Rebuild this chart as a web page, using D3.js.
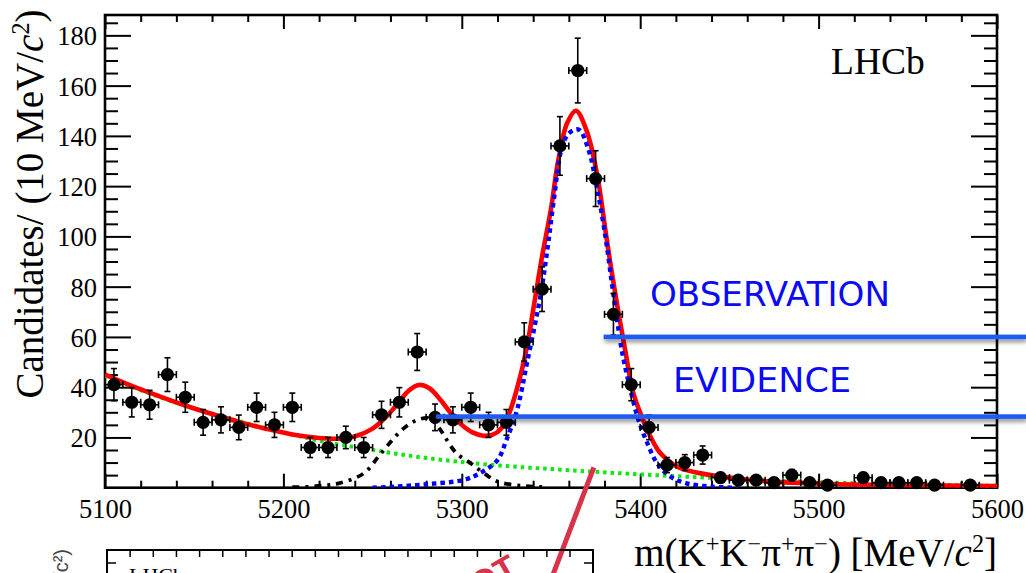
<!DOCTYPE html>
<html><head><meta charset="utf-8">
<script src="https://cdn.jsdelivr.net/npm/d3@7"></script>
<style>body{margin:0;background:#fff}svg{display:block}</style>
</head><body><svg id="c" width="1026" height="573"></svg>
<script>
// ---------- data ----------
const binCenters = [5105,5115,5125,5135,5145,5155,5165,5175,5185,5195,
  5205,5215,5225,5235,5245,5255,5265,5275,5285,5295,
  5305,5315,5325,5335,5345,5355,5365,5375,5385,5395,
  5405,5415,5425,5435,5445,5455,5465,5475,5485,5495,
  5505,5515,5525,5535,5545,5555,5565,5575,5585,5595];
const candidates = [41,34,33,45,36,26,27,24,32,25,
  32,16,16,20,16,29,34,54,28,27,
  32,25,26,58,79,136,166,123,69,41,
  24,9,10,13,4,3,3,2,5,2,
  1,0,4,2,2,2,1,0,1,0];

// total fit (red)
const totalMass  = [5100,5115,5130,5145,5160,5175,5190,5205,5220,5230,5240,5250,5258,5265,5270,5276,5282,5288,5294,5300,5306,5312,5317,5322,5327,5333,5337,5341,5345,5350,5354,5359,5364,5370,5376,5381,5384,5388,5392,5396,5401,5406,5411,5419,5426,5434,5452,5471,5508,5550,5600];
const totalValue = [45,40.5,36.5,32.7,29.3,26.2,23.5,21.2,19.8,19.5,20.4,23.5,28.5,34.3,38.5,40.9,39.5,35,29.5,25,22,20.7,21,23.5,30.5,45,58,75,92,111,130,145,150,142,124,100,86,69,53,38,28,20,14,9,7,5.7,3.8,2.5,1.5,1.0,0.7];

// B0s signal (blue dotted)
const signalMass  = [5250,5262,5282,5301,5310,5320,5325,5331,5336.5,5344,5348,5351.5,5356,5360,5365.5,5371,5376,5380.5,5384,5387,5390,5394.5,5399,5404,5409.5,5417,5426,5440,5455];
const signalValue = [0,0.4,1.5,3.1,5.7,11,19,31,49.5,76,95,114,135,141,142.5,134.5,118.5,100,82,67,53.5,39,27,17.7,9.7,4.4,1.75,0.4,0];

// combinatorial background (green dotted)
const bkgMass  = [5100,5125,5150,5175,5200,5225,5250,5275,5300,5325,5350,5375,5400,5425,5450,5475,5500,5525,5550,5575,5600];
const bkgValue = [44.5,37.5,31.5,26.5,22,18,15,12.3,10.2,8.6,7.4,6.3,5.3,4.4,3.6,2.8,2.2,1.7,1.3,1.0,0.75];

// B0 component (black dash-dot)
const b0Mass  = [5205,5215,5224,5231,5245,5254,5263.6,5270,5276,5282,5288,5291.6,5297,5305,5312,5320,5333,5345];
const b0Value = [0.2,0.4,1.0,1.7,5.7,13,21,25,27.2,27.6,23,19,13.7,9.7,6,2.5,0.8,0.3];

const xMajor = [5100,5200,5300,5400,5500,5600];
const xMinor = [5120,5140,5160,5180,5220,5240,5260,5280,5320,5340,5360,5380,5420,5440,5460,5480,5520,5540,5560,5580];
const yMajor = [20,40,60,80,100,120,140,160,180];
const yMinor = [5,10,15,25,30,35,45,50,55,65,70,75,85,90,95,105,110,115,125,130,135,145,150,155,165,170,175,185];

// annotations: significance thresholds
const thresholdLabels = ["OBSERVATION","EVIDENCE"];
const thresholdValues = [60,28.3];
const thresholdStart  = [5379.5,5285.6];

// ---------- drawing ----------
const svg = d3.select("#c");
const X0=105, X1=997, Y0=487.7, Y1=15;
const x = d3.scaleLinear().domain([5100,5600]).range([X0,X1]);
const y = d3.scaleLinear().domain([0,188.1]).range([Y0,Y1]);
const serif = "'Liberation Serif','Times New Roman',serif";

const defs = svg.append("defs");
defs.append("clipPath").attr("id","plot").append("rect")
  .attr("x",X0).attr("y",Y1).attr("width",X1-X0).attr("height",Y0-Y1);
const f = defs.append("filter").attr("id","sh").attr("x","-5%").attr("y","-150%").attr("width","110%").attr("height","500%");
f.append("feDropShadow").attr("dx",1).attr("dy",3).attr("stdDeviation",2.2).attr("flood-color","#000").attr("flood-opacity",0.45);

// axes (ticks inside, ROOT style)
function styleAxis(g){ g.select(".domain").remove(); g.selectAll(".tick line").attr("stroke","#000").attr("stroke-width",2); }
const gxb = svg.append("g").attr("transform",`translate(0,${Y0})`)
  .call(d3.axisBottom(x).tickValues(xMajor).tickSize(-14).tickFormat(d3.format("d")));
styleAxis(gxb);
gxb.selectAll("text").attr("font-family",serif).attr("font-size",26.5).attr("fill","#000").attr("y",30.5).attr("dy",null);
svg.append("g").attr("transform",`translate(0,${Y0})`)
  .call(d3.axisBottom(x).tickValues(xMinor).tickSize(-7).tickFormat("")).call(styleAxis);
svg.append("g").attr("transform",`translate(0,${Y1})`)
  .call(d3.axisTop(x).tickValues(xMajor).tickSize(-14).tickFormat("")).call(styleAxis);
svg.append("g").attr("transform",`translate(0,${Y1})`)
  .call(d3.axisTop(x).tickValues(xMinor).tickSize(-7).tickFormat("")).call(styleAxis);

const gyl = svg.append("g").attr("transform",`translate(${X0},0)`)
  .call(d3.axisLeft(y).tickValues(yMajor).tickSize(-26).tickPadding(8).tickFormat(d3.format("d")));
styleAxis(gyl);
gyl.selectAll("text").attr("font-family",serif).attr("font-size",26.5).attr("fill","#000").attr("dy","0.36em");
svg.append("g").attr("transform",`translate(${X0},0)`)
  .call(d3.axisLeft(y).tickValues(yMinor).tickSize(-13).tickFormat("")).call(styleAxis);
svg.append("g").attr("transform",`translate(${X1},0)`)
  .call(d3.axisRight(y).tickValues(yMajor).tickSize(-26).tickFormat("")).call(styleAxis);
svg.append("g").attr("transform",`translate(${X1},0)`)
  .call(d3.axisRight(y).tickValues(yMinor).tickSize(-13).tickFormat("")).call(styleAxis);

svg.append("rect").attr("x",X0).attr("y",Y1).attr("width",X1-X0).attr("height",Y0-Y1)
  .attr("fill","none").attr("stroke","#000").attr("stroke-width",2.6);

// curves
const line = d3.line().x(d=>x(d[0])).y(d=>y(d[1])).curve(d3.curveCatmullRom.alpha(0.5));
const gc = svg.append("g").attr("clip-path","url(#plot)");
gc.append("path").datum(d3.zip(bkgMass,bkgValue)).attr("d",line)
  .attr("fill","none").attr("stroke","#14e614").attr("stroke-width",4).attr("stroke-dasharray","3.5 4");
gc.append("path").datum(d3.zip(b0Mass,b0Value)).attr("d",line)
  .attr("fill","none").attr("stroke","#000").attr("stroke-width",3.8).attr("stroke-dasharray","7 6 3 6");
gc.append("path").datum(d3.zip(totalMass,totalValue)).attr("d",line)
  .attr("fill","none").attr("stroke","#ff0000").attr("stroke-width",4.6).attr("stroke-linejoin","round");
gc.append("path").datum(d3.zip(signalMass,signalValue)).attr("d",line)
  .attr("fill","none").attr("stroke","#0000ff").attr("stroke-width",4.4).attr("stroke-dasharray","4.5 4");

// data points with Poisson errors
const pts = d3.zip(binCenters,candidates).filter(d=>d[1]>0);
const gp = svg.append("g").attr("stroke","#000").attr("stroke-width",1.6);
const hw = 5; // half bin width
pts.forEach(([m,n])=>{
  const e = Math.sqrt(n), cx=x(m), cy=y(n);
  gp.append("line").attr("x1",cx).attr("x2",cx).attr("y1",y(n+e)).attr("y2",y(Math.max(n-e,0)));
  gp.append("line").attr("x1",cx-3).attr("x2",cx+3).attr("y1",y(n+e)).attr("y2",y(n+e));
  if(n-e>0) gp.append("line").attr("x1",cx-3).attr("x2",cx+3).attr("y1",y(n-e)).attr("y2",y(n-e));
  gp.append("line").attr("x1",x(m-hw)).attr("x2",x(m+hw)).attr("y1",cy).attr("y2",cy);
  gp.append("line").attr("x1",x(m-hw)).attr("x2",x(m-hw)).attr("y1",cy-3.5).attr("y2",cy+3.5);
  gp.append("line").attr("x1",x(m+hw)).attr("x2",x(m+hw)).attr("y1",cy-3.5).attr("y2",cy+3.5);
});
svg.append("g").selectAll("circle").data(pts).join("circle")
  .attr("cx",d=>x(d[0])).attr("cy",d=>y(d[1])).attr("r",6.6).attr("fill","#000");

// LHCb label
svg.append("text").attr("x",831).attr("y",74).attr("font-family",serif).attr("font-size",37.5).text("LHCb");

// axis titles
function rich(t, parts, size){
  parts.forEach(p=>{
    const s = t.append("tspan").text(p.t);
    if(p.it) s.attr("font-style","italic");
    if(p.sup){ s.attr("font-size",size*0.62).attr("dy",-size*0.36); }
    if(p.back){ s.attr("dy",size*0.36); }
  });
}
const xt = svg.append("text").attr("x",997).attr("y",566).attr("text-anchor","end")
  .attr("font-family",serif).attr("font-size",39);
rich(xt,[{t:"m(K"},{t:"+",sup:1},{t:"K",back:1},{t:"\u2212",sup:1},{t:"\u03c0",back:1},{t:"+",sup:1},{t:"\u03c0",back:1},{t:"\u2212",sup:1},{t:") [MeV/",back:1},{t:"c",it:1},{t:"2",sup:1},{t:"]",back:1}],39);

const yt = svg.append("text").attr("transform","translate(43,204) rotate(-90)").attr("text-anchor","middle")
  .attr("font-family",serif).attr("font-size",39);
rich(yt,[{t:"Candidates/ (10 MeV/"},{t:"c",it:1},{t:"2",sup:1},{t:")",back:1}],39);

// threshold annotations
const sansL = "'DejaVu Sans',sans-serif";
thresholdValues.forEach((v,i)=>{
  svg.append("rect").attr("x",x(thresholdStart[i])).attr("y",y(v)-2.3).attr("width",1026-x(thresholdStart[i])).attr("height",4.6)
    .attr("fill","#1d5cf2").attr("filter","url(#sh)");
});
svg.append("text").attr("x",650).attr("y",306).attr("font-family",sansL)
  .attr("font-size",33).attr("fill","#0a0af5").attr("textLength",240).attr("lengthAdjust","spacingAndGlyphs").text(thresholdLabels[0]);
svg.append("text").attr("x",673).attr("y",392).attr("font-family",sansL)
  .attr("font-size",33).attr("fill","#0a0af5").attr("textLength",178).attr("lengthAdjust","spacingAndGlyphs").text(thresholdLabels[1]);

// red diagonal pointer (annotation)
svg.append("line").attr("x1",x(5374)).attr("y1",y(8.1)).attr("x2",x(5345)).attr("y2",y(-46))
  .attr("stroke","#d8334a").attr("stroke-width",5);

// second (lower) figure peeking in at the bottom
const g2 = svg.append("g");
g2.append("path").attr("d","M107,580V550H593V580").attr("fill","none").attr("stroke","#000").attr("stroke-width",2);
d3.range(0,22).forEach(k=>{
  const tx = 107 + k*23.15;
  g2.append("line").attr("x1",tx).attr("x2",tx).attr("y1",550).attr("y2",557).attr("stroke","#000").attr("stroke-width",1.5);
});
g2.append("line").attr("x1",107).attr("x2",116).attr("y1",563).attr("y2",563).attr("stroke","#000").attr("stroke-width",1.5);
g2.append("line").attr("x1",584).attr("x2",593).attr("y1",563).attr("y2",563).attr("stroke","#000").attr("stroke-width",1.5);
g2.append("text").attr("x",129).attr("y",583).attr("font-family",serif).attr("font-size",22).text("LHCb");
g2.append("text").attr("transform","translate(68,549) rotate(-90)").attr("text-anchor","end")
  .attr("font-family","'Liberation Sans',sans-serif").attr("font-size",20).attr("fill","#444").text("Candidates / (10 MeV/c\u00b2)");
g2.append("text").attr("transform","translate(520,574) rotate(-30)").attr("text-anchor","end").attr("font-family","'Liberation Sans',sans-serif")
  .attr("font-weight","bold").attr("font-size",34).attr("fill","#d8334a").text("NOT");
</script></body></html>
